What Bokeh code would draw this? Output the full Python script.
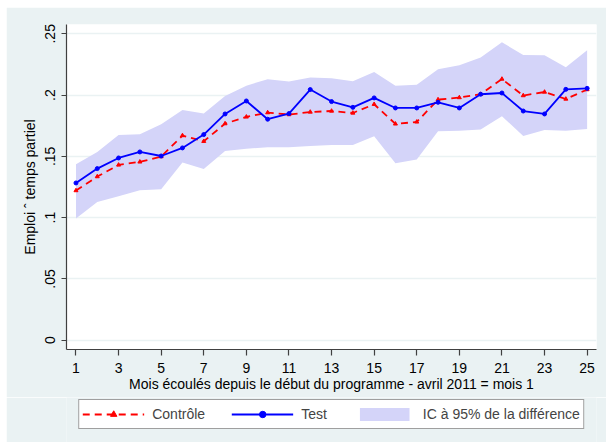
from bokeh.plotting import figure
from bokeh.models import (FixedTicker, CustomJSTickFormatter, Legend, LegendItem,
                          Range1d, ColumnDataSource)
from bokeh.layouts import column
from bokeh.embed import file_html
from bokeh.resources import INLINE

# ---- data ----
mois = list(range(1, 26))
controle = [0.1221, 0.1335, 0.1430, 0.1455, 0.1498, 0.1670, 0.1623, 0.1767, 0.1822, 0.1857,
            0.1841, 0.1862, 0.1870, 0.1854, 0.1925, 0.1765, 0.1781, 0.1963, 0.1980, 0.2007,
            0.2131, 0.1996, 0.2025, 0.1968, 0.2045]
test = [0.1283, 0.1400, 0.1487, 0.1536, 0.1503, 0.1569, 0.1678, 0.1846, 0.1952, 0.1803,
        0.1849, 0.2045, 0.1947, 0.1900, 0.1977, 0.1895, 0.1895, 0.1941, 0.1895, 0.2007,
        0.2017, 0.1870, 0.1846, 0.2047, 0.2055]
ic_haut = [0.1436, 0.1536, 0.1675, 0.1680, 0.1762, 0.1879, 0.1849, 0.1993, 0.2077, 0.2129,
           0.2110, 0.2143, 0.2137, 0.2113, 0.2189, 0.2077, 0.2085, 0.2210, 0.2243, 0.2306,
           0.2431, 0.2327, 0.2325, 0.2227, 0.2365]
ic_bas = [0.0992, 0.1128, 0.1175, 0.1223, 0.1232, 0.1449, 0.1397, 0.1544, 0.1563, 0.1574,
          0.1574, 0.1585, 0.1593, 0.1593, 0.1664, 0.1444, 0.1474, 0.1705, 0.1710, 0.1719,
          0.1827, 0.1667, 0.1715, 0.1710, 0.1724]
xticks = [1, 3, 5, 7, 9, 11, 13, 15, 17, 19, 21, 23, 25]
yticks = [0.0, 0.05, 0.10, 0.15, 0.20, 0.25]
ytick_labels = ["0", ".05", ".1", ".15", ".2", ".25"]
labels_legende = ["Contrôle", "Test", "IC à 95% de la différence"]
titre_x = "Mois écoulés depuis le début du programme - avril 2011 = mois 1"
titre_y = "Emploi ˆ temps partiel"

FONT = "Liberation Sans"
BG = "#EAF2F3"
RED, BLUE, BAND = "#FF0000", "#0000FF", "#D4D4F9"

src = ColumnDataSource(dict(x=mois, c=controle, t=test, hi=ic_haut, lo=ic_bas))


def draw_series(fig):
    b = fig.varea(x="x", y1="lo", y2="hi", source=src, fill_color=BAND, fill_alpha=1.0)
    r1 = fig.line(x="x", y="c", source=src, line_color=RED, line_width=1.8, line_dash="7 5")
    r2 = fig.scatter(x="x", y="c", source=src, marker="triangle", size=4,
                     fill_color=RED, line_color=RED)
    b1 = fig.line(x="x", y="t", source=src, line_color=BLUE, line_width=1.8)
    b2 = fig.scatter(x="x", y="t", source=src, marker="circle", size=4,
                     fill_color=BLUE, line_color=BLUE)
    return b, r1, r2, b1, b2


p = figure(frame_width=530, frame_height=325, output_backend="svg", toolbar_location=None,
           x_range=Range1d(0.555, 25.44), y_range=Range1d(-0.0076, 0.2576),
           min_border_left=60, min_border_right=10, min_border_top=17, min_border_bottom=48,
           margin=(7, 0, 0, 6))
p.background_fill_color = "white"
p.border_fill_color = BG
p.outline_line_color = None
draw_series(p)

# axes
p.xaxis.ticker = FixedTicker(ticks=xticks)
p.yaxis.ticker = FixedTicker(ticks=yticks)
p.yaxis.formatter = CustomJSTickFormatter(args=dict(yt=yticks, yl=ytick_labels), code="""
let i = 0, b = 1e9;
for (let k = 0; k < yt.length; k++) { const d = Math.abs(yt[k] - tick); if (d < b) { b = d; i = k; } }
return yl[i];
""")
for ax in (p.xaxis[0], p.yaxis[0]):
    ax.axis_line_color = "#404040"
    ax.axis_line_width = 1.2
    ax.major_tick_line_color = "#404040"
    ax.major_tick_line_width = 1.2
    ax.minor_tick_line_color = None
    ax.major_tick_in = 0
    ax.major_label_text_font = FONT
    ax.major_label_text_font_size = "14px"
    ax.major_label_text_color = "black"
    ax.axis_label_text_font = FONT
    ax.axis_label_text_font_size = "14px"
    ax.axis_label_text_font_style = "normal"
    ax.axis_label_text_color = "black"
p.xaxis.major_tick_out = 6
p.yaxis.major_tick_out = 5
p.xaxis.major_label_standoff = 7
p.xaxis.axis_label_standoff = 0
p.yaxis.major_label_standoff = 6
p.yaxis.axis_label_standoff = 5
p.yaxis.major_label_orientation = "vertical"
p.xaxis.axis_label = titre_x
p.yaxis.axis_label = titre_y

p.xgrid.grid_line_color = None
p.ygrid.grid_line_color = BG
p.ygrid.grid_line_width = 1.5

# ---- legend strip below the chart (same series, kept out of its view range) ----
q = figure(frame_width=530, frame_height=45, output_backend="svg", toolbar_location=None,
           x_range=Range1d(0.555, 25.44), y_range=Range1d(5, 6), x_axis_type=None, y_axis_type=None,
           min_border_left=60, min_border_right=10, min_border_top=0, min_border_bottom=0,
           margin=(0, 0, 0, 6))
q.background_fill_color = BG
q.border_fill_color = BG
q.outline_line_color = None
q.grid.grid_line_color = None
l_band, l_rl, l_rm, l_bl, l_bm = draw_series(q)

legend = Legend(items=[LegendItem(label=labels_legende[0], renderers=[l_rl, l_rm]),
                       LegendItem(label=labels_legende[1], renderers=[l_bl, l_bm]),
                       LegendItem(label=labels_legende[2], renderers=[l_band])],
                orientation="horizontal", location="top_center",
                label_text_font=FONT, label_text_font_size="14px",
                glyph_width=62, glyph_height=16, label_height=22, label_standoff=8,
                spacing=26, padding=3, margin=2,
                border_line_color="#404040", border_line_width=1.2,
                background_fill_color="white", background_fill_alpha=1.0)
q.add_layout(legend, "center")

page = column(p, q, spacing=0)
open("out.html", "w").write(file_html(page, INLINE))
